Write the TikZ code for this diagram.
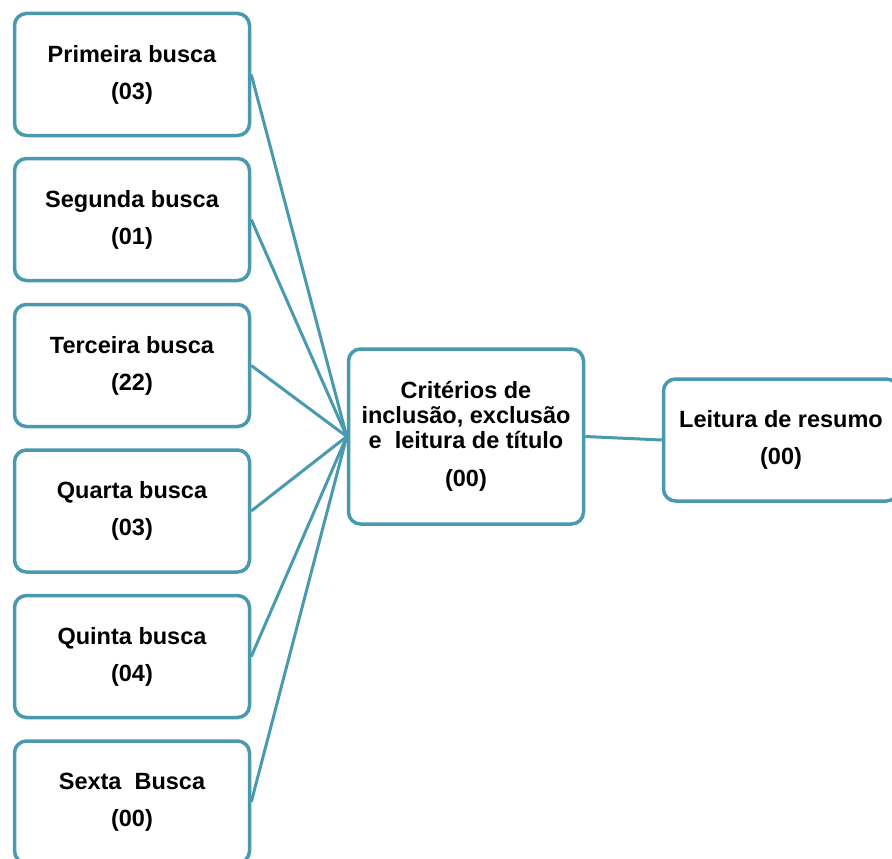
\documentclass[tikz,border=0pt]{standalone}
\usepackage{fontspec}
\setmainfont{Liberation Sans}
\definecolor{teal1}{HTML}{4A9AAF}
\begin{document}
\begin{tikzpicture}[x=1pt,y=-1pt,
  box/.style={draw=teal1, line width=3.5pt, rounded corners=12pt, fill=white,
    minimum width=235pt, minimum height=122pt, align=center, inner sep=0pt,
    font=\fontsize{23.5}{37}\selectfont\bfseries},
  link/.style={draw=teal1, line width=3pt}]
\useasboundingbox (0,0) rectangle (892,859);
\node[box] (b1) at (132,74.5) {Primeira busca\\(03)};
\node[box] (b2) at (132,219.5) {Segunda busca\\(01)};
\node[box] (b3) at (132,365.5) {Terceira busca\\(22)};
\node[box] (b4) at (132,511) {Quarta busca\\(03)};
\node[box] (b5) at (132,656.5) {Quinta busca\\(04)};
\node[box] (b6) at (132,802) {Sexta\ \ Busca\\(00)};
\node[box, minimum height=175pt, font=\fontsize{23.5}{25}\selectfont\bfseries] (c) at (466,436.5)
  {Critérios de\\inclusão, exclusão\\e\ \ leitura de título\\[13pt](00)};
\node[box] (r) at (781,440) {Leitura de resumo\\(00)};
\foreach \i in {1,...,6} \draw[link] (b\i.east) -- (c.west);
\draw[link] (c.east) -- (r.west);
\end{tikzpicture}
\end{document}
